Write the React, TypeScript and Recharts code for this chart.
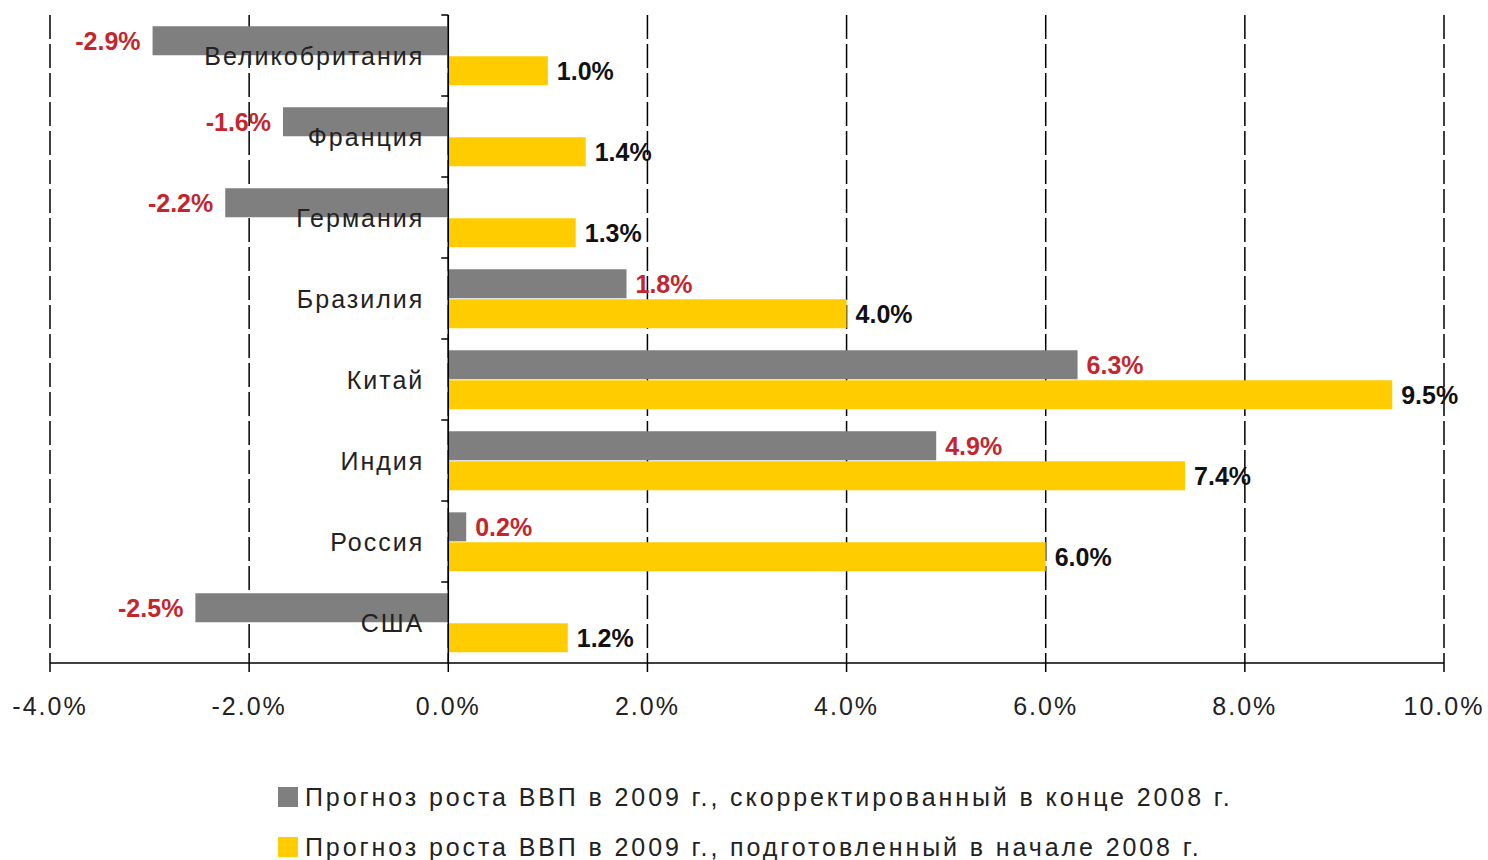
import React from "react";
import {
  BarChart,
  Bar,
  XAxis,
  YAxis,
  CartesianGrid,
  ReferenceLine,
  Legend,
  LabelList,
} from "recharts";

const countries = [
  "Великобритания",
  "Франция",
  "Германия",
  "Бразилия",
  "Китай",
  "Индия",
  "Россия",
  "США",
];

// forecast revised at end of 2008 (grey)
const revised = [-2.97, -1.66, -2.24, 1.79, 6.32, 4.9, 0.18, -2.54];
const revisedLabels = ["-2.9%", "-1.6%", "-2.2%", "1.8%", "6.3%", "4.9%", "0.2%", "-2.5%"];

// forecast prepared at start of 2008 (yellow)
const initial = [1.0, 1.38, 1.28, 4.0, 9.48, 7.4, 6.0, 1.2];
const initialLabels = ["1.0%", "1.4%", "1.3%", "4.0%", "9.5%", "7.4%", "6.0%", "1.2%"];

const xTicks = [-4, -2, 0, 2, 4, 6, 8, 10];

const seriesNames = [
  "Прогноз роста ВВП в 2009 г., скорректированный в конце 2008 г.",
  "Прогноз роста ВВП в 2009 г., подготовленный в начале 2008 г.",
];

const W = 1488;
const H = 860;
const MARGIN = { top: 15, right: 44, bottom: 137, left: 49 };
const Y_AXIS_W = 1;
const X_AXIS_H = 60;
const DOMAIN: [number, number] = [-4, 10];

const GREY = "#7f7f7f";
const YELLOW = "#ffcc00";
const RED = "#c4262e";
const FONT = "'Liberation Sans', Arial, sans-serif";

const data = countries.map((name, i) => ({
  name,
  revised: revised[i],
  initial: initial[i],
}));

const plotLeft = MARGIN.left + Y_AXIS_W;
const plotWidth = W - plotLeft - MARGIN.right;
const plotHeight = H - MARGIN.top - MARGIN.bottom - X_AXIS_H;
const zeroX = plotLeft + (plotWidth * (0 - DOMAIN[0])) / (DOMAIN[1] - DOMAIN[0]);
const band = plotHeight / countries.length;

const CountryTick = ({ y, payload }: any) => (
  <g>
    <line x1={zeroX - 7} x2={zeroX} y1={y - band / 2} y2={y - band / 2} stroke="#000" strokeWidth={1.5} />
    <text
      x={zeroX - 24}
      y={y}
      textAnchor="end"
      dominantBaseline="central"
      fontSize={25}
      letterSpacing={2}
      fill="#222"
      fontFamily={FONT}
    >
      {payload.value}
    </text>
  </g>
);

const makeLabel = (labels: string[], color: string) => (props: any) => {
  const { x, y, width, height, index, value } = props;
  const left = Math.min(x, x + width);
  const right = Math.max(x, x + width);
  const neg = value < 0;
  return (
    <text
      x={neg ? left - 12 : right + 9}
      y={y + height / 2}
      textAnchor={neg ? "end" : "start"}
      dominantBaseline="central"
      fontSize={25}
      fontWeight="bold"
      fill={color}
      fontFamily={FONT}
    >
      {labels[index]}
    </text>
  );
};

const LegendContent = ({ payload }: any) => {
  const items = [...(payload || [])].sort(
    (a: any, b: any) => seriesNames.indexOf(a.value) - seriesNames.indexOf(b.value)
  );
  return (
    <div style={{ fontFamily: FONT }}>
      {items.map((entry: any) => (
        <div
          key={entry.value}
          style={{ display: "flex", alignItems: "center", height: 50 }}
        >
          <span
            style={{
              display: "inline-block",
              width: 20,
              height: 20,
              background: entry.color,
              marginRight: 7,
            }}
          />
          <span style={{ fontSize: 25, letterSpacing: 2.9, color: "#222" }}>
            {entry.value}
          </span>
        </div>
      ))}
    </div>
  );
};

export default function App() {
  return (
    <div style={{ position: "absolute", left: 0, top: 0, width: W, height: H, background: "#fff" }}>
      <BarChart
        width={W}
        height={H}
        data={data}
        layout="vertical"
        margin={MARGIN}
        barCategoryGap="14%"
        barGap={1}
      >
        <CartesianGrid
          horizontal={false}
          stroke="#000"
          strokeWidth={1.5}
          strokeDasharray="24 5"
        />
        <XAxis
          type="number"
          domain={DOMAIN}
          ticks={xTicks}
          height={X_AXIS_H}
          tickFormatter={(v: number) => `${v.toFixed(1)}%`}
          axisLine={{ stroke: "#000", strokeWidth: 1.5 }}
          tickLine={{ stroke: "#000", strokeWidth: 1.5 }}
          tickSize={9}
          tickMargin={25}
          tick={{ fontSize: 25, fill: "#222", fontFamily: FONT, letterSpacing: 2 }}
        />
        <YAxis
          type="category"
          dataKey="name"
          width={Y_AXIS_W}
          axisLine={false}
          tickLine={false}
          tick={<CountryTick />}
          interval={0}
        />
        <Legend
          layout="vertical"
          align="center"
          verticalAlign="middle"
          wrapperStyle={{ top: 772, left: 278, width: "auto" }}
          content={<LegendContent />}
        />
        <Bar dataKey="revised" name={seriesNames[0]} fill={GREY} isAnimationActive={false}>
          <LabelList dataKey="revised" content={makeLabel(revisedLabels, RED)} />
        </Bar>
        <Bar dataKey="initial" name={seriesNames[1]} fill={YELLOW} isAnimationActive={false}>
          <LabelList dataKey="initial" content={makeLabel(initialLabels, "#111")} />
        </Bar>
        <ReferenceLine x={0} stroke="#000" strokeWidth={1.5} />
      </BarChart>
    </div>
  );
}
